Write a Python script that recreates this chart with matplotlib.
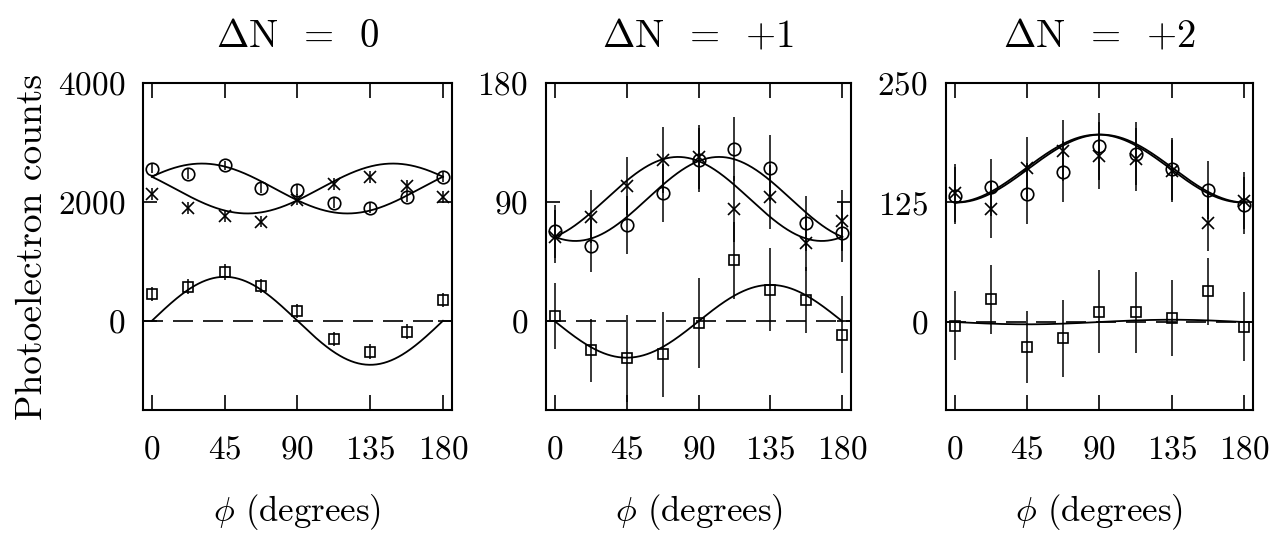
import numpy as np
import matplotlib
matplotlib.use('Agg')
import matplotlib.pyplot as plt

plt.rcParams['font.family'] = 'cmr10'
plt.rcParams['mathtext.fontset'] = 'cm'
plt.rcParams['axes.formatter.use_mathtext'] = True

# Measured angles (degrees)
phi = [0, 22.5, 45, 67.5, 90, 112.5, 135, 157.5, 180]

titles = [r'$\Delta$N  =  0', r'$\Delta$N  =  +1', r'$\Delta$N  =  +2']

# Delta N = 0
circ0 = [2560, 2470, 2615, 2230, 2200, 1985, 1900, 2080, 2420]
cross0 = [2140, 1890, 1770, 1670, 2040, 2300, 2420, 2275, 2080]
sq0 = [450, 575, 820, 585, 165, -300, -520, -180, 355]
circ0_err = [80, 80, 80, 80, 80, 80, 80, 80, 80]
cross0_err = [100, 100, 100, 100, 100, 100, 100, 100, 100]
sq0_err = [120, 120, 130, 120, 120, 120, 130, 120, 120]
fit0 = [2225, 198, 370]  # offset, cos(2phi), sin(2phi)

# Delta N = +1
circ1 = [68, 57, 73, 97, 122, 130, 116, 74, 67]
cross1 = [64, 79, 102, 122, 124, 85, 94, 59, 76]
sq1 = [4, -22, -28, -25, -1, 46, 24, 16, -10]
circ1_err = [20, 20, 22, 22, 24, 24, 25, 21, 22]
cross1_err = [20, 20, 22, 25, 24, 25, 24, 21, 23]
sq1_err = [25, 24, 33, 32, 34, 29, 31, 25, 29]
fit1 = [92.4, -28.6, -13.75]

# Delta N = +2
circ2 = [132, 141, 134, 157, 184, 176, 160, 138, 122]
cross2 = [135, 118, 161, 179, 174, 170, 158, 104, 127]
sq2 = [-4, 24, -26, -17, 11, 10, 4, 32, -5]
circ2_err = [30, 30, 32, 32, 35, 33, 32, 30, 30]
cross2_err = [30, 30, 32, 32, 35, 33, 32, 30, 30]
sq2_err = [36, 36, 38, 40, 43, 42, 40, 35, 36]
fit2 = [160.5, -35.5, -1.2]

ylims = [(-1500, 4000), (-67, 180), (-92, 250)]
yticks = [[0, 2000, 4000], [0, 90, 180], [0, 125, 250]]

panels = [
    (circ0, circ0_err, cross0, cross0_err, sq0, sq0_err, fit0),
    (circ1, circ1_err, cross1, cross1_err, sq1, sq1_err, fit1),
    (circ2, circ2_err, cross2, cross2_err, sq2, sq2_err, fit2),
]

fig = plt.figure(figsize=(12.71, 5.37), dpi=100)
lefts = [0.1125, 0.4296, 0.7443]
widths = [0.243, 0.240, 0.2415]

x_fit = np.linspace(0, 180, 400)
xr = np.radians(2 * x_fit)

for i, (circ, ce, cross, xe, sq, se, fit) in enumerate(panels):
    ax = fig.add_axes([lefts[i], 0.2365, widths[i], 0.609])
    a, c, b = fit
    ax.plot(x_fit, a + c * np.cos(xr) + b * np.sin(xr), color='black', lw=1.3)
    ax.plot(x_fit, a + c * np.cos(xr) - b * np.sin(xr), color='black', lw=1.3)
    ax.plot(x_fit, 2 * b * np.sin(xr), color='black', lw=1.3)
    ax.axhline(0, color='black', lw=1.2, ls=(0, (12, 6)))

    ax.errorbar(phi, circ, yerr=ce, fmt='o', mfc='none', mec='black', ms=9,
                mew=1.2, ecolor='black', elinewidth=1.1, capsize=0)
    ax.errorbar(phi, cross, yerr=xe, fmt='x', mec='black', ms=8.5,
                mew=1.2, ecolor='black', elinewidth=1.1, capsize=0)
    ax.errorbar(phi, sq, yerr=se, fmt='s', mfc='none', mec='black', ms=7.5,
                mew=1.2, ecolor='black', elinewidth=1.1, capsize=0)

    ax.set_xlim(-5.5, 185.5)
    ax.set_ylim(*ylims[i])
    ax.set_xticks([0, 45, 90, 135, 180])
    ax.set_yticks(yticks[i])
    ax.tick_params(direction='in', top=True, right=True, labelsize=24,
                   width=1.2, color='black')
    ax.tick_params(axis='x', length=11, pad=18)
    ax.tick_params(axis='y', length=10, pad=13)
    for s in ax.spines.values():
        s.set_linewidth(1.5)

    ax.set_title(titles[i], fontsize=28, pad=26)
    ax.set_xlabel(r'$\phi$ (degrees)', fontsize=25, labelpad=20)
    if i == 0:
        ax.set_ylabel('Photoelectron counts', fontsize=27, labelpad=6)

fig.savefig('out.png', dpi=100)
